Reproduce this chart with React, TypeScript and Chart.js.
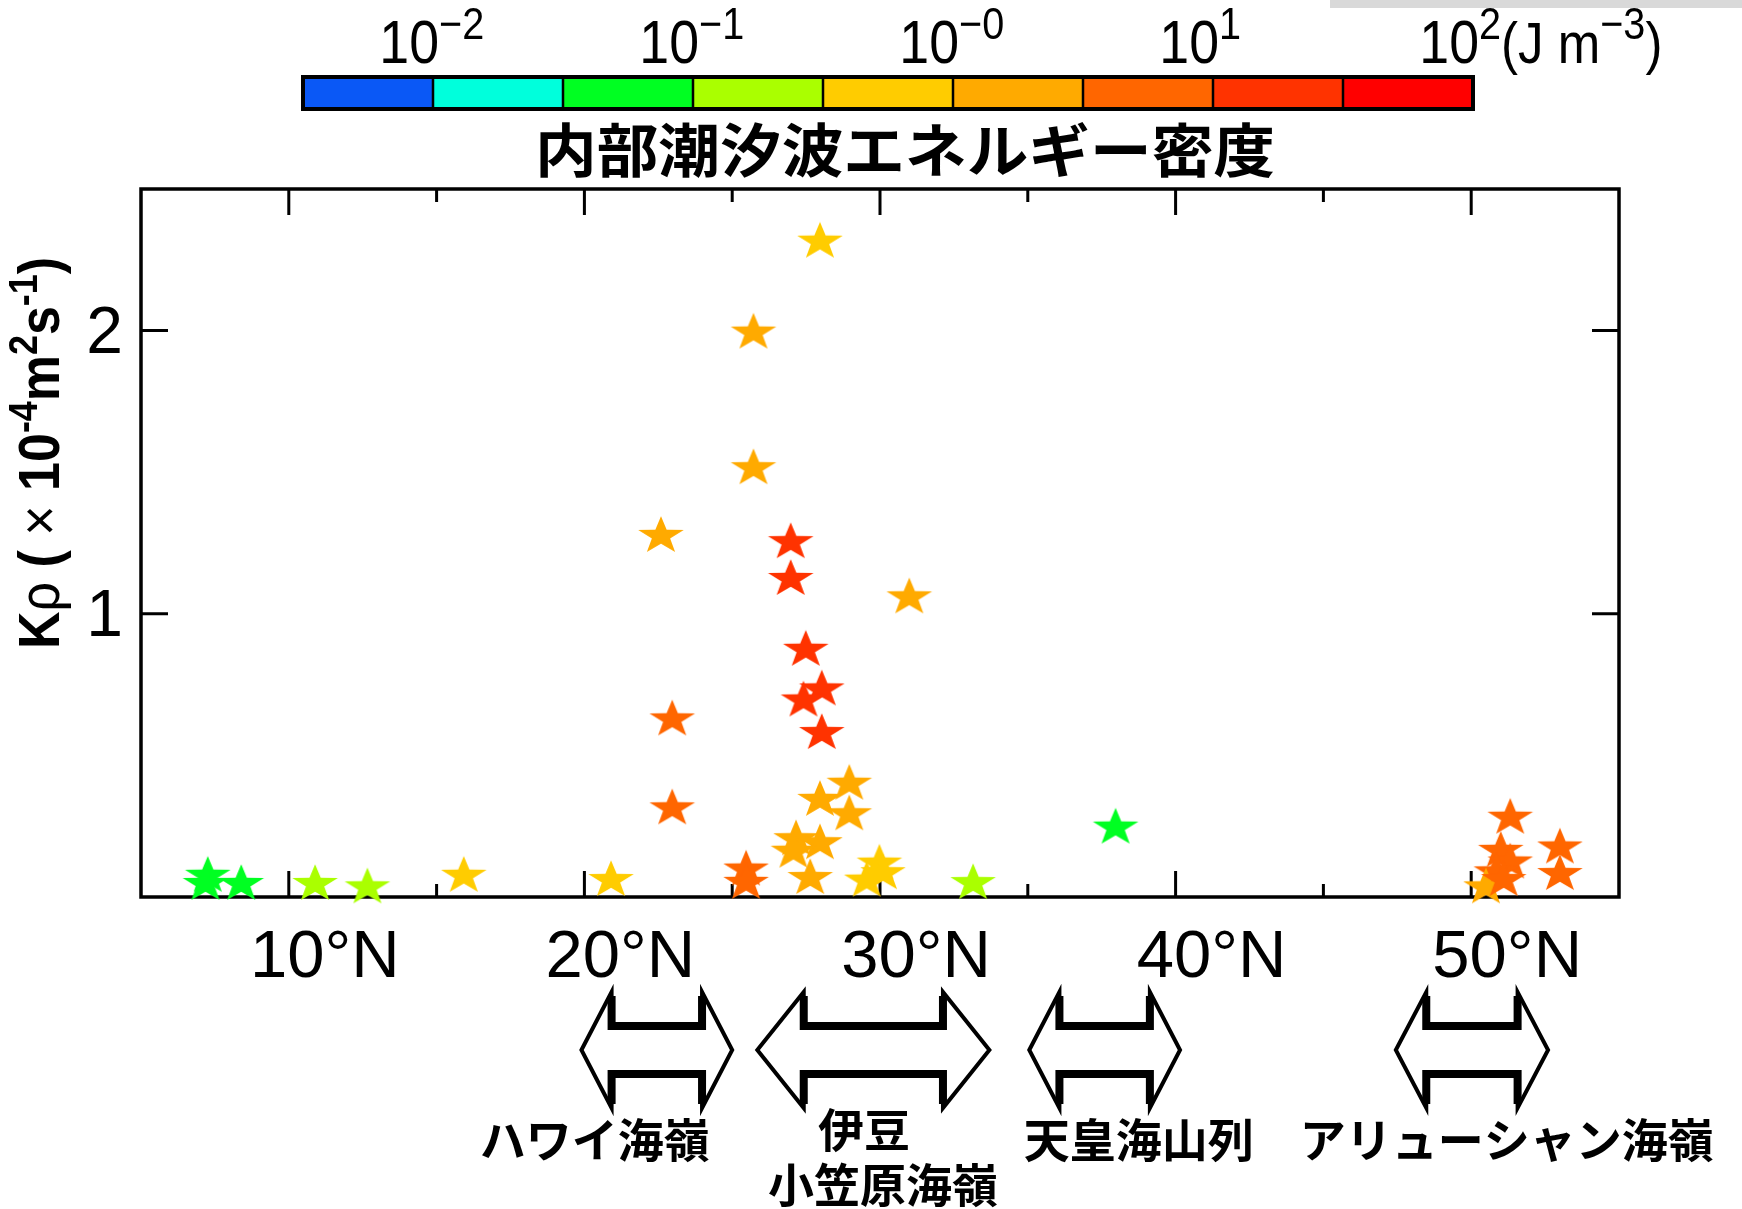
import React, { useEffect, useRef } from 'react';
import { Chart, registerables } from 'chart.js';

Chart.register(...registerables);

// ---------------- data ----------------
const latitude = [7.26, 7.18, 8.39, 10.89, 12.66, 15.92, 20.9, 22.59, 22.97, 22.97, 25.72, 25.72, 27.97, 26.98, 26.98, 27.49, 28.03, 27.41, 28.03, 30.99, 28.96, 27.97, 28.96, 27.16, 27.97, 27.07, 27.64, 25.47, 25.47, 29.98, 29.55, 30.1, 33.15, 37.97, 51.32, 51.0, 51.32, 50.85, 53.0, 53.0, 50.5, 51.1];
const kRho = [0.075, 0.046, 0.046, 0.046, 0.034, 0.075, 0.06, 1.275, 0.627, 0.313, 1.993, 1.514, 2.314, 1.253, 1.123, 0.873, 0.733, 0.694, 0.579, 1.058, 0.4, 0.343, 0.292, 0.204, 0.19, 0.16, 0.067, 0.097, 0.05, 0.118, 0.058, 0.084, 0.049, 0.245, 0.28, 0.163, 0.122, 0.087, 0.175, 0.081, 0.034, 0.06];
const energyDensity = [0.05, 0.07, 0.06, 0.18, 0.22, 0.55, 0.5, 1.8, 5.5, 6.2, 1.6, 2.1, 0.7, 14, 16, 13, 18, 15, 17, 2.3, 1.9, 2.2, 1.7, 2.4, 2.0, 1.5, 2.6, 6.5, 7, 0.6, 0.75, 0.65, 0.25, 0.08, 6, 5.8, 6.3, 7, 5.5, 6.1, 1.8, 6.4];

const xMajorTicks = [10, 20, 30, 40, 50];
const xMinorTicks = [15, 25, 35, 45];
const yTicks = [1, 2];

const colorbarColors = ['#0a58f6', '#00ffdc', '#00ff22', '#aaff00', '#ffcc00', '#ffaa00', '#ff6600', '#ff3300', '#ff0000'];
const colorbarLogBounds = [-2.5, -2, -1.5, -1, -0.5, 0, 0.5, 1, 1.5, 2];
const colorbarLabelLogs = [-2, -1, 0, 1, 2];
const colorbarLabelExp = ['\u22122', '\u22121', '\u22120', '1', '2'];

const regionNames = [['ハワイ海嶺'], ['伊豆', '小笠原海嶺'], ['天皇海山列'], ['アリューシャン海嶺']];
const regionStart = [19.9, 25.85, 35.05, 47.45];
const regionEnd = [25.0, 33.7, 40.15, 52.6];
const regionLabelLat = [[20.35], [29.46, 30.1], [38.75], [51.2]];

const title = '内部潮汐波エネルギー密度';

// ---------------- helpers ----------------
type Run = { t: string; f: string; dy?: number };

function runsWidth(ctx: CanvasRenderingContext2D, runs: Run[]) {
  let w = 0;
  for (const r of runs) { ctx.font = r.f; w += ctx.measureText(r.t).width; }
  return w;
}
function drawRuns(ctx: CanvasRenderingContext2D, runs: Run[], x0: number) {
  let cx = x0;
  for (const r of runs) {
    ctx.font = r.f;
    ctx.fillText(r.t, cx, r.dy || 0);
    cx += ctx.measureText(r.t).width;
  }
}

function makeStar(color: string) {
  const c = document.createElement('canvas');
  const R = 24, r = 9.6, vs = 0.82;
  c.width = 50; c.height = 42;
  const g = c.getContext('2d')!;
  g.translate(25, 21);
  g.scale(1, vs);
  g.beginPath();
  for (let i = 0; i < 10; i++) {
    const ang = -Math.PI / 2 + i * Math.PI / 5;
    const rad = i % 2 === 0 ? R : r;
    const px = rad * Math.cos(ang), py = rad * Math.sin(ang);
    if (i === 0) g.moveTo(px, py); else g.lineTo(px, py);
  }
  g.closePath();
  g.fillStyle = color;
  g.fill();
  return c;
}

function drawDoubleArrow(ctx: CanvasRenderingContext2D, xl: number, xr: number, yc: number, H: number, S: number, h: number) {
  ctx.lineJoin = 'miter';
  ctx.beginPath();
  ctx.moveTo(xl, yc);
  ctx.lineTo(xl + h, yc - H);
  ctx.lineTo(xl + h, yc - S);
  ctx.lineTo(xr - h, yc - S);
  ctx.lineTo(xr - h, yc - H);
  ctx.lineTo(xr, yc);
  ctx.lineTo(xr - h, yc + H);
  ctx.lineTo(xr - h, yc + S);
  ctx.lineTo(xl + h, yc + S);
  ctx.lineTo(xl + h, yc + H);
  ctx.closePath();
  ctx.lineWidth = 4;
  ctx.stroke();
  ctx.lineWidth = 8;
  ctx.beginPath();
  ctx.moveTo(xl + h, yc - H + 4); ctx.lineTo(xl + h, yc - S); ctx.lineTo(xr - h, yc - S); ctx.lineTo(xr - h, yc - H + 4);
  ctx.moveTo(xl + h, yc + H - 4); ctx.lineTo(xl + h, yc + S); ctx.lineTo(xr - h, yc + S); ctx.lineTo(xr - h, yc + H - 4);
  ctx.stroke();
}

const decorPlugin = {
  id: 'decor',
  beforeDatasetsDraw(chart: any) {
    const { ctx, chartArea: a } = chart;
    const xs = chart.scales.x, ys = chart.scales.y;
    ctx.save();
    ctx.strokeStyle = '#000';
    ctx.lineWidth = 3.5;
    ctx.strokeRect(a.left, a.top, a.right - a.left, a.bottom - a.top);
    ctx.lineWidth = 3;
    ctx.beginPath();
    const xt = (v: number, len: number) => {
      const p = xs.getPixelForValue(v);
      ctx.moveTo(p, a.bottom); ctx.lineTo(p, a.bottom - len);
      ctx.moveTo(p, a.top); ctx.lineTo(p, a.top + len);
    };
    xMajorTicks.forEach(v => xt(v, 26));
    xMinorTicks.forEach(v => xt(v, 13));
    yTicks.forEach(v => {
      const p = ys.getPixelForValue(v);
      ctx.moveTo(a.left, p); ctx.lineTo(a.left + 27, p);
      ctx.moveTo(a.right, p); ctx.lineTo(a.right - 27, p);
    });
    ctx.stroke();
    ctx.restore();
  },
  afterDraw(chart: any) {
    const { ctx } = chart;
    const xs = chart.scales.x;
    ctx.save();
    // grey strip top right
    ctx.fillStyle = '#d9d9d9';
    ctx.fillRect(1330, 0, 412, 8);

    // colour bar
    const cbL = 303, cbR = 1473, cbT = 77, cbB = 109;
    const lo = colorbarLogBounds[0], hi = colorbarLogBounds[colorbarLogBounds.length - 1];
    const cpx = (v: number) => cbL + (v - lo) / (hi - lo) * (cbR - cbL);
    colorbarColors.forEach((c, i) => {
      ctx.fillStyle = c;
      const x0 = cpx(colorbarLogBounds[i]);
      ctx.fillRect(x0, cbT, cpx(colorbarLogBounds[i + 1]) - x0, cbB - cbT);
    });
    ctx.strokeStyle = '#000';
    ctx.lineWidth = 2.5;
    ctx.beginPath();
    for (let i = 1; i < colorbarLogBounds.length - 1; i++) {
      const p = cpx(colorbarLogBounds[i]);
      ctx.moveTo(p, cbT); ctx.lineTo(p, cbB);
    }
    ctx.stroke();
    ctx.lineWidth = 4;
    ctx.strokeRect(cbL, cbT, cbR - cbL, cbB - cbT);

    // colour bar labels
    ctx.fillStyle = '#000';
    ctx.textAlign = 'left';
    ctx.textBaseline = 'alphabetic';
    const sx = 0.88;
    const baseF = '61px "Liberation Sans"';
    const supF = '45px "Liberation Sans"';
    colorbarLabelLogs.forEach((lv, i) => {
      const p = cpx(lv);
      const runs: Run[] = [{ t: '10', f: baseF }, { t: colorbarLabelExp[i], f: supF, dy: -24 }];
      if (i === colorbarLabelLogs.length - 1) {
        runs.push({ t: '(J m', f: '58px "Liberation Sans"' }, { t: '\u22123', f: supF, dy: -24 }, { t: ')', f: '58px "Liberation Sans"' });
      }
      ctx.font = baseF;
      const w10 = ctx.measureText('10').width * sx;
      ctx.save();
      ctx.translate(p + 6 - w10, 63);
      ctx.scale(sx, 1);
      drawRuns(ctx, runs, 0);
      ctx.restore();
    });

    // colour bar title (fitted to its width)
    ctx.font = 'bold 58px "Noto Sans CJK JP"';
    ctx.textAlign = 'center';
    ctx.textBaseline = 'middle';
    const ttw = ctx.measureText(title).width;
    ctx.save();
    ctx.translate(905, 150);
    ctx.scale(740 / ttw, 1);
    ctx.fillText(title, 0, 0);
    ctx.restore();

    // y axis title
    const yRuns: Run[] = [
      { t: 'K', f: 'bold 58px "Liberation Sans"' },
      { t: '\u03c1', f: '58px "Liberation Sans"' },
      { t: ' ( ', f: 'bold 58px "Liberation Sans"' },
      { t: '\u00d7', f: '58px "Liberation Sans"' },
      { t: ' 10', f: 'bold 58px "Liberation Sans"' },
      { t: '-4', f: 'bold 40px "Liberation Sans"', dy: -22 },
      { t: 'm', f: 'bold 58px "Liberation Sans"' },
      { t: '2', f: 'bold 40px "Liberation Sans"', dy: -22 },
      { t: 's', f: 'bold 58px "Liberation Sans"' },
      { t: '-1', f: 'bold 40px "Liberation Sans"', dy: -22 },
      { t: ')', f: 'bold 58px "Liberation Sans"' },
    ];
    ctx.textAlign = 'left';
    ctx.textBaseline = 'alphabetic';
    const tw = runsWidth(ctx, yRuns);
    ctx.save();
    ctx.translate(59, 453);
    ctx.rotate(-Math.PI / 2);
    ctx.scale(392 / tw, 1);
    drawRuns(ctx, yRuns, -tw / 2);
    ctx.restore();

    // region arrows
    ctx.strokeStyle = '#000';
    regionStart.forEach((s, i) => {
      const xl = xs.getPixelForValue(s), xr = xs.getPixelForValue(regionEnd[i]);
      drawDoubleArrow(ctx, xl, xr, 1050, 58, 24, (xr - xl) * 0.2);
    });
    ctx.fillStyle = '#000';
    ctx.font = 'bold 46px "Noto Sans CJK JP"';
    ctx.textAlign = 'center';
    ctx.textBaseline = 'middle';
    regionNames.forEach((lines, i) => {
      const y0 = lines.length === 1 ? 1140 : 1130;
      lines.forEach((ln, j) => {
        const cx = xs.getPixelForValue(regionLabelLat[i][j]);
        ctx.fillText(ln, cx, y0 + j * 55);
      });
    });
    ctx.restore();
  },
};

export default function App() {
  const ref = useRef<HTMLCanvasElement>(null);
  useEffect(() => {
    const canvas = ref.current!;
    const starImgs = colorbarColors.map(c => makeStar(c));
    const step = colorbarLogBounds[1] - colorbarLogBounds[0];
    const binOf = (e: number) =>
      Math.max(0, Math.min(colorbarColors.length - 1, Math.floor((Math.log10(e) - colorbarLogBounds[0]) / step)));
    const points = latitude.map((lat, i) => ({ x: lat, y: kRho[i] }));
    const chart = new Chart(canvas, {
      type: 'scatter',
      data: {
        datasets: [{
          data: points,
          pointStyle: (c: any) => starImgs[binOf(energyDensity[c.dataIndex])],
          pointRadius: 20,
          clip: false as any,
        }],
      },
      options: {
        animation: false,
        responsive: false,
        devicePixelRatio: 1,
        layout: { padding: { left: 0, top: 189, right: 123, bottom: 0 } },
        plugins: { legend: { display: false }, tooltip: { enabled: false } },
        scales: {
          x: {
            type: 'linear',
            min: 5,
            max: 55,
            grid: { display: false, drawTicks: false },
            border: { display: false },
            afterBuildTicks: (s: any) => { s.ticks = xMajorTicks.map(v => ({ value: v })); },
            afterFit: (s: any) => { s.height = 312; },
            ticks: {
              callback: (v: any) => `${v}°N`,
              font: { family: 'Liberation Sans', size: 67 },
              color: '#000',
              padding: 21,
              labelOffset: 36,
              maxRotation: 0,
              autoSkip: false,
            },
          },
          y: {
            type: 'linear',
            min: 0,
            max: 2.5,
            grid: { display: false, drawTicks: false },
            border: { display: false },
            afterBuildTicks: (s: any) => { s.ticks = yTicks.map(v => ({ value: v })); },
            afterFit: (s: any) => { s.width = 141; },
            ticks: {
              callback: (v: any) => String(v),
              font: { family: 'Liberation Sans', size: 66 },
              color: '#000',
              padding: 18,
              labelOffset: 4,
            },
          },
        },
      },
      plugins: [decorPlugin],
    } as any);
    return () => chart.destroy();
  }, []);
  return (
    <div style={{ position: 'absolute', left: 0, top: 0, width: 1742, height: 1209, background: '#fff' }}>
      <canvas ref={ref} width={1742} height={1209} style={{ width: 1742, height: 1209, display: 'block' }} />
    </div>
  );
}
